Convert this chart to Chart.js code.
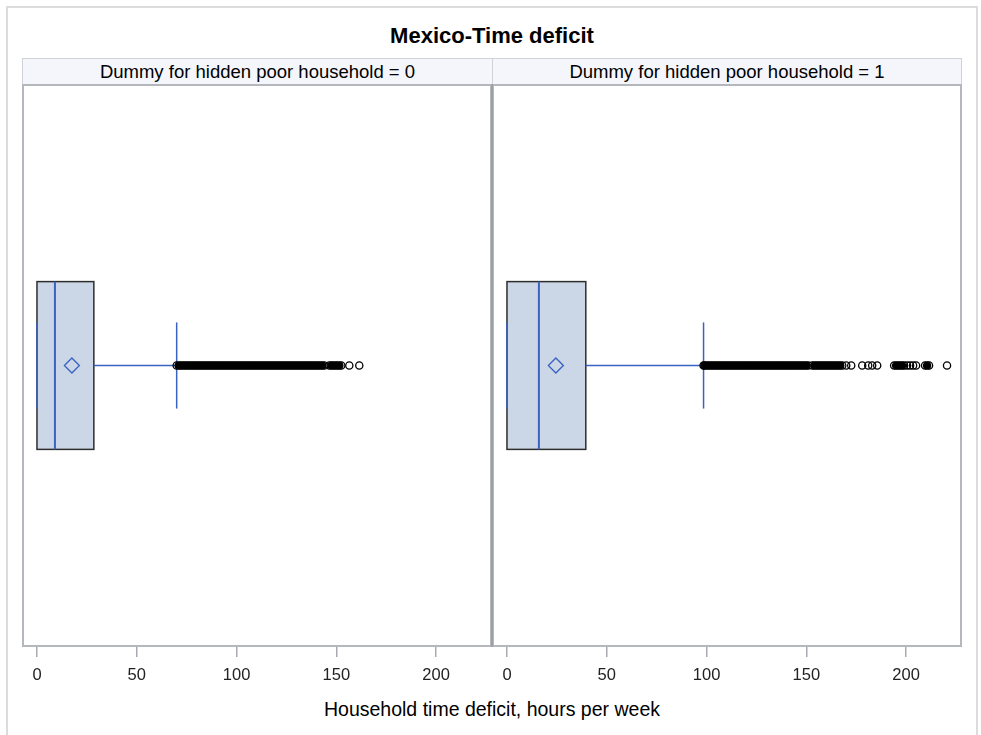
<!DOCTYPE html>
<html>
<head>
<meta charset="utf-8">
<script src="https://cdn.jsdelivr.net/npm/chart.js@4.4.1/dist/chart.umd.min.js"></script>
<style>
  html, body { margin: 0; padding: 0; background: #fff; }
  #page { position: relative; width: 981px; height: 735px; overflow: hidden;
          font-family: "Liberation Sans", Arial, sans-serif; color: #000; }
  #frame { position: absolute; left: 6px; top: 6px; width: 972px; height: 760px;
           border: 2px solid #dcdcdc; box-sizing: border-box; }
  #title { position: absolute; left: 0; width: 984px; top: 22px; text-align: center;
           font-weight: bold; font-size: 22px; line-height: 28px; }
  .strip { position: absolute; top: 58px; height: 27px; box-sizing: border-box;
           background: #f4f6fc; border: 1px solid #cfd3d8; text-align: center;
           font-size: 18.5px; line-height: 25px; white-space: nowrap; }
  .cv { position: absolute; top: 84px; }
  #divider { position: absolute; left: 491px; top: 84px; width: 2px; height: 563px; background: #9da1a6; }
  #xtitle { position: absolute; left: 0; width: 984px; top: 696px; text-align: center;
            font-size: 19.5px; line-height: 26px; }
</style>
</head>
<body>
<div id="page">
  <div id="frame"></div>
  <div id="title">Mexico-Time deficit</div>
  <div class="strip" id="strip0" style="left:22px;width:471px;"></div>
  <div class="strip" id="strip1" style="left:492px;width:470px;"></div>
  <canvas class="cv" id="c0" width="470" height="603" style="left:22px;"></canvas>
  <canvas class="cv" id="c1" width="470" height="603" style="left:492px;"></canvas>
  <div id="divider"></div>
  <div id="xtitle">Household time deficit, hours per week</div>
</div>
<script>
// Panel labels and x-axis ticks
const panelLabels = ['Dummy for hidden poor household = 0', 'Dummy for hidden poor household = 1'];
const xTicks = [0, 50, 100, 150, 200];

// Box statistics per panel (hours per week)
const whiskerLow = [0, 0];
const q1Values = [0, 0];
const medianValues = [9, 16];
const q3Values = [28.5, 39.5];
const meanValues = [17.5, 24.5];
const whiskerHigh = [70, 98.5];

// Outlying households, panel 0
const outliers0 = [
  70, 71, 72, 73, 74, 75, 76, 77, 78, 79, 80, 81, 82, 83, 84, 85, 86, 87, 88, 89,
  90, 91, 92, 93, 94, 95, 96, 97, 98, 99, 100, 101, 102, 103, 104, 105, 106, 107, 108, 109,
  110, 111, 112, 113, 114, 115, 116, 117, 118, 119, 120, 121, 122, 123, 124, 125, 126, 127, 128, 129,
  130, 131, 132, 133, 134, 135, 136, 137, 138, 139, 140,
  141, 142, 143, 144, 146.5, 147.5, 148.5, 149.5, 150.5, 151.5, 152.5, 156.5, 161.5
];

// Outlying households, panel 1
const outliers1 = [
  98.5, 99, 100, 101, 102, 103, 104, 105, 106, 107, 108, 109, 110, 111, 112, 113, 114, 115, 116, 117,
  118, 119, 120, 121, 122, 123, 124, 125, 126, 127, 128, 129, 130, 131, 132, 133, 134, 135, 136, 137,
  138, 139, 140, 141, 142, 143, 144, 145, 146, 147, 148, 149, 150, 151, 153, 154, 155, 156, 157, 158,
  159, 160, 161, 162, 163, 164, 165, 166, 167, 168,
  170, 172.5, 178, 181, 183, 185.5,
  194, 195, 196, 197, 198, 199, 200.5, 202, 203.5, 205,
  209.5, 210.5, 211.5, 220.5
];
const outlierSets = [outliers0, outliers1];

const BLUE = '#3a62bf';
const BOX_FILL = '#cbd6e6';
const BOX_EDGE = '#2e2e2e';
const FRAME = '#b4b8bd';
const BOX_HALF = 0.298;
const CAP_HALF = 0.153;

document.getElementById('strip0').textContent = panelLabels[0];
document.getElementById('strip1').textContent = panelLabels[1];

// Overlapping circles inside a dense run read as a solid band
function insideRun(values, k) {
  const v = values[k];
  const prev = k > 0 ? v - values[k - 1] : Infinity;
  const next = k < values.length - 1 ? values[k + 1] - v : Infinity;
  return prev <= 1.2 && next <= 1.2;
}

const boxPlugin = {
  id: 'boxDraw',
  beforeDatasetsDraw(chart, args, opts) {
    const i = opts.index;
    const { ctx, scales: { x, y } } = chart;
    const px = v => x.getPixelForValue(v);
    const yc = y.getPixelForValue(0);
    const yTop = y.getPixelForValue(BOX_HALF), yBot = y.getPixelForValue(-BOX_HALF);
    const cTop = y.getPixelForValue(CAP_HALF), cBot = y.getPixelForValue(-CAP_HALF);
    const line = (x1, y1, x2, y2) => { ctx.beginPath(); ctx.moveTo(x1, y1); ctx.lineTo(x2, y2); ctx.stroke(); };
    ctx.save();
    // interquartile box
    ctx.fillStyle = BOX_FILL;
    ctx.fillRect(px(q1Values[i]), yTop, px(q3Values[i]) - px(q1Values[i]), yBot - yTop);
    ctx.strokeStyle = BOX_EDGE;
    ctx.lineWidth = 1.5;
    ctx.strokeRect(px(q1Values[i]), yTop, px(q3Values[i]) - px(q1Values[i]), yBot - yTop);
    // whiskers and caps
    ctx.strokeStyle = BLUE;
    ctx.lineWidth = 1.5;
    line(px(q3Values[i]), yc, px(whiskerHigh[i]), yc);
    line(px(whiskerLow[i]), yc, px(q1Values[i]), yc);
    line(px(whiskerHigh[i]), cTop, px(whiskerHigh[i]), cBot);
    line(px(whiskerLow[i]), cTop, px(whiskerLow[i]), cBot);
    // median
    ctx.lineWidth = 2;
    line(px(medianValues[i]), yTop, px(medianValues[i]), yBot);
    // mean marker
    const mx = px(meanValues[i]), d = 7.5;
    ctx.lineWidth = 1.3;
    ctx.beginPath();
    ctx.moveTo(mx, yc - d); ctx.lineTo(mx + d, yc); ctx.lineTo(mx, yc + d); ctx.lineTo(mx - d, yc);
    ctx.closePath();
    ctx.stroke();
    ctx.restore();
  },
  afterDraw(chart) {
    const { ctx, chartArea: a } = chart;
    ctx.save();
    ctx.strokeStyle = FRAME;
    ctx.lineWidth = 2;
    ctx.strokeRect(a.left + 1, a.top + 1, a.width - 2, a.height - 2);
    ctx.restore();
  }
};

function makePanel(i) {
  const values = outlierSets[i];
  return new Chart(document.getElementById('c' + i), {
    type: 'scatter',
    data: {
      datasets: [{
        data: values.map(v => ({ x: v, y: 0 })),
        pointStyle: 'circle',
        pointRadius: 3.6,
        pointBorderWidth: 1.3,
        pointBorderColor: '#000',
        pointBackgroundColor: ctx => insideRun(values, ctx.dataIndex) ? '#000' : 'rgba(255,255,255,0)',
        showLine: false
      }]
    },
    options: {
      responsive: false,
      animation: false,
      devicePixelRatio: 1,
      layout: { padding: 0, autoPadding: false },
      events: [],
      plugins: {
        legend: { display: false },
        tooltip: { enabled: false },
        boxDraw: { index: i }
      },
      scales: {
        x: {
          type: 'linear',
          min: -7.5,
          max: 228,
          afterBuildTicks: s => { s.ticks = xTicks.map(v => ({ value: v })); },
          afterFit: s => { s.height = 40; },
          grid: { drawOnChartArea: false, drawTicks: true, tickLength: 10, color: '#a7abb0', lineWidth: 1.5 },
          border: { display: false },
          ticks: {
            padding: 9,
            color: '#222',
            maxRotation: 0,
            autoSkip: false,
            font: { family: 'Liberation Sans', size: 16.5 }
          }
        },
        y: { type: 'linear', min: -1, max: 1, display: false }
      }
    },
    plugins: [boxPlugin]
  });
}

makePanel(0);
makePanel(1);
</script>
</body>
</html>
